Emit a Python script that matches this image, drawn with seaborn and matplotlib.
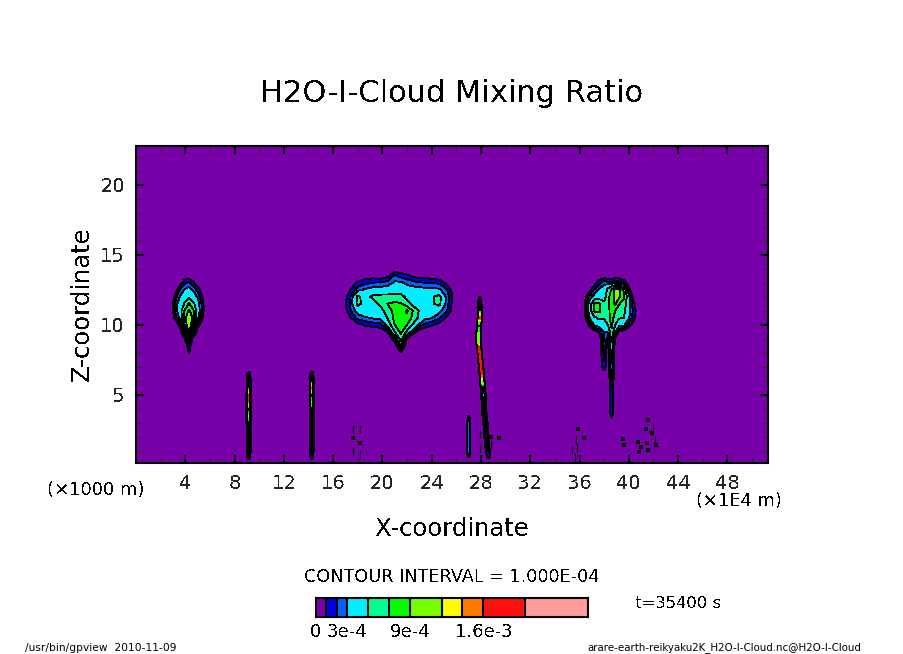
import numpy as np
import matplotlib
matplotlib.use('Agg')
import matplotlib.pyplot as plt
from matplotlib.colors import ListedColormap, BoundaryNorm
import seaborn as sns

# contour levels and colours, in units of 1e-4
levels = [0, 1, 2, 3, 5, 7, 9, 12, 14, 16, 20, 26]
colors = ['#7800A8', '#0000E0', '#0060FF', '#00EEFF', '#00FF90', '#00FF00',
          '#78FF00', '#FFFF00', '#FF7800', '#FF1010', '#FF9C9C']
bar_cells = [0.5, 1.5, 2.5, 3.5, 4.5, 5.5, 6.5, 7.5, 8.5, 9.5, 10.5, 11.5, 12.5,
             13.5, 14.5, 15.5, 16.5, 17.5, 18.5, 19.5, 20.5, 21.5, 22.5, 23.5, 24.5, 25.5]
bar_labels = ['0', '3e-4', '9e-4', '1.6e-3']
bar_label_levels = [0, 3, 9, 16]

x_major = [4, 8, 12, 16, 20, 24, 28, 32, 36, 40, 44, 48]
z_major = [5, 10, 15, 20]

# cloud near x=4
c1_x = [2.6, 3.0, 3.3, 3.6, 3.95, 4.3, 4.65, 5.0, 5.5, 5.9]
c1_z = [7.5, 8, 8.5, 9, 9.5, 10, 10.5, 11, 11.5, 12, 12.5, 13, 13.5]
c1_q = [[0, 0, 0, 0, 0, .2, 0, 0, 0, 0],
        [0, 0, 0, 0, 0, 1.1, 0, 0, 0, 0],
        [0, 0, 0, 0, 0, 1.6, 0, 0, 0, 0],
        [0, 0, 0, 0, .8, 3.6, .4, 0, 0, 0],
        [0, 0, 0, .3, 4, 10, 3.2, .2, 0, 0],
        [0, 0, .4, 1.6, 7, 11.4, 6.5, 1.5, 0, 0],
        [0, .5, 2, 3.6, 8, 11.6, 8.2, 3.4, .4, 0],
        [0, 1, 2.8, 4.2, 7.2, 9.4, 7.4, 4, 1, 0],
        [0, 1, 2.8, 3.8, 5.2, 7.2, 5.4, 3.8, .9, 0],
        [0, .4, 2, 3.2, 4, 4.6, 3.9, 2.8, .4, 0],
        [0, 0, .7, 2.2, 3.1, 3.5, 2.8, 1.6, 0, 0],
        [0, 0, 0, .4, 1.8, 2.2, 1.2, .2, 0, 0],
        [0, 0, 0, 0, 0, 0, 0, 0, 0, 0]]

# big cloud near x=21
c2_x = [16.8, 17.4, 18, 18.6, 19.2, 19.8, 20.4, 21, 21.5, 22, 22.8, 23.4, 24, 24.6, 25.2, 25.8]
c2_z = [8, 8.5, 9, 9.5, 10, 10.5, 11, 11.5, 12, 12.5, 13, 13.5, 14]
c2_q = [[0, 0, 0, 0, 0, 0, 0, 0, .9, 0, 0, 0, 0, 0, 0, 0],
        [0, 0, 0, 0, 0, 0, 0, .2, 3, 0, 0, 0, 0, 0, 0, 0],
        [0, 0, 0, 0, 0, 0, 0, 1.5, 6, .8, 0, 0, 0, 0, 0, 0],
        [0, 0, 0, 0, 0, .2, .8, 5, 7.6, 4.5, .6, 0, 0, 0, 0, 0],
        [0, 0, .6, 1.2, 1.4, 1.6, 3.4, 7, 8, 7, 3.4, 1.8, 1.2, .6, 0, 0],
        [0, .9, 2.4, 2.8, 3.2, 3.4, 5, 7.6, 8.2, 8.4, 5.2, 3.4, 3.1, 2.2, .8, 0],
        [.1, 1.9, 3.6, 4.6, 3.8, 4, 6, 7.6, 8, 9.3, 5.4, 3.8, 3.7, 3.4, 2.2, .1],
        [.2, 2.2, 5.6, 4.2, 3.8, 5.4, 7, 7.4, 7.2, 5.6, 3.8, 3.7, 4.7, 5.6, 2.6, .3],
        [.1, 1.9, 5.4, 4.2, 5.4, 5.6, 5.6, 5.8, 5.6, 4.5, 3.8, 3.7, 4.7, 5.6, 2.8, .6],
        [0, 1, 2.6, 3.2, 3.5, 3.6, 3.7, 4, 4.2, 3.6, 3.5, 3.4, 3.4, 3.2, 2.2, .2],
        [0, .2, 1.2, 1.6, 2, 2.1, 2.4, 3.2, 3.2, 2.7, 2.2, 2, 1.9, 1.8, .6, 0],
        [0, 0, 0, .4, .4, .2, .6, 2.2, 1.6, 1.2, .5, .5, .3, 0, 0, 0],
        [0, 0, 0, 0, 0, 0, 0, 0, 0, 0, 0, 0, 0, 0, 0, 0]]

# cloud near x=38 with its two stalks
c3_x = [36, 36.4, 36.8, 37.2, 37.6, 38, 38.3, 38.6, 38.9, 39.2, 39.6, 40, 40.4, 40.8]
c3_z = [3, 3.5, 4, 4.5, 5, 5.5, 6, 6.5, 7, 7.5, 8, 8.5, 9, 9.5, 10, 10.5, 11, 11.5, 12, 12.5, 13, 13.5]
c3_q = [[0, 0, 0, 0, 0, 0, 0, 0, 0, 0, 0, 0, 0, 0],
        [0, 0, 0, 0, 0, 0, 0, 1.4, 0, 0, 0, 0, 0, 0],
        [0, 0, 0, 0, 0, 0, 0, 1.5, 0, 0, 0, 0, 0, 0],
        [0, 0, 0, 0, 0, 0, 0, 1.6, 0, 0, 0, 0, 0, 0],
        [0, 0, 0, 0, 0, 0, 0, 1.8, 0, 0, 0, 0, 0, 0],
        [0, 0, 0, 0, 0, 0, 0, 2, 0, 0, 0, 0, 0, 0],
        [0, 0, 0, 0, 0, 0, 0, 2.2, 0, 0, 0, 0, 0, 0],
        [0, 0, 0, 0, 0, .4, 0, 2.5, 0, 0, 0, 0, 0, 0],
        [0, 0, 0, 0, 0, 1.6, 0, 2.8, 0, 0, 0, 0, 0, 0],
        [0, 0, 0, 0, 0, 2, 0, 3.2, 0, 0, 0, 0, 0, 0],
        [0, 0, 0, 0, 0, 2.4, 0, 3.6, 0, 0, 0, 0, 0, 0],
        [0, 0, 0, 0, 0, 2.8, .3, 4.5, 0, 0, 0, 0, 0, 0],
        [0, 0, 0, 0, 0, 3.2, 1.4, 5.6, .8, 0, 0, 0, 0, 0],
        [0, 0, 0, .3, 1.2, 3, 3.2, 6.6, 3.4, .8, .3, 0, 0, 0],
        [0, 0, 1.2, 3.2, 3.8, 4, 5, 7.4, 5, 3.6, 3.4, 1.6, .4, 0],
        [0, .5, 3, 4.6, 5.4, 5.2, 6, 8, 6, 5.2, 5, 3.2, 1.4, 0],
        [0, 1, 3.6, 7.4, 7.5, 5.6, 6, 8.2, 7, 6, 5.5, 3.5, 1.6, .1],
        [0, 1, 3.5, 7.2, 7.2, 5.4, 6.5, 8, 9.4, 7.2, 6, 3.6, 1.2, 0],
        [0, .3, 2.4, 3.6, 3.8, 4.2, 6, 8.4, 9.5, 9.5, 7.4, 3.4, .2, 0],
        [0, 0, .5, 2, 3.2, 3.5, 5.6, 7.2, 9.5, 9.5, 6.6, 1.4, 0, 0],
        [0, 0, 0, .4, 1.6, 2.8, 2.2, 2.2, 2.6, 2.6, 1.5, .4, 0, 0],
        [0, 0, 0, 0, 0, 0, 0, 0, 0, 0, 0, 0, 0, 0]]

# thin towers: centre x, core and edge values per height
tower_a_z = [.3, .5, 1, 1.5, 2, 2.5, 3, 3.5, 4, 4.5, 5, 5.5, 6, 6.5, 6.8]
tower_a_x = [9.15, 9.15, 9.15, 9.15, 9.15, 9.15, 9.15, 9.15, 9.15, 9.15, 9.15, 9.15, 9.15, 9.15, 9.15]
tower_a_core = [0, 1.5, 3, 4, 5, 5.5, 6, 9.5, 6, 16.5, 17, 6, 5, 1.5, 0]
tower_a_edge = [0, .8, 1.4, 1.6, 1.6, 1.7, 1.8, 1.8, 1.8, 1.8, 1.8, 1.7, 1.5, .8, 0]

tower_b_z = [.3, .5, 1, 1.5, 2, 2.5, 3, 3.5, 4, 4.5, 5, 5.5, 6, 6.5, 7]
tower_b_x = [14.27, 14.27, 14.27, 14.27, 14.27, 14.27, 14.27, 14.27, 14.27, 14.27, 14.27, 14.27, 14.27, 14.27, 14.27]
tower_b_core = [0, 1.5, 2.5, 3, 3, 3, 3.5, 4, 6, 9.5, 6, 17, 5.5, 1.5, 0]
tower_b_edge = [0, .8, 1.2, 1.3, 1.3, 1.3, 1.4, 1.5, 1.5, 1.7, 1.8, 1.8, 1.5, .9, 0]

tower_c_z = [.3, .6, 1, 2, 2.7, 3.5, 4, 5.1, 5.5, 6.5, 7.5, 8.4, 8.7, 9.3, 10, 10.5, 11, 11.5, 12.2]
tower_c_x = [28.65, 28.6, 28.55, 28.45, 28.4, 28.3, 28.25, 28.2, 28.15, 28.07, 27.95, 27.85, 27.8, 27.8, 27.85, 27.9, 27.9, 27.9, 27.9]
tower_c_core = [0, 1.5, 2, 2.5, 3, 3.2, 3.5, 4.5, 5, 17, 17, 17, 10, 10, 6, 17, 6, 3, 0]
tower_c_edge = [0, .9, 1.3, 1.5, 1.6, 1.6, 1.7, 1.7, 1.7, 1.8, 1.8, 1.8, 1.8, 1.8, 1.8, 1.6, 1.5, 1.2, 0]

tower_d_z = [.4, .6, 1, 1.5, 2, 2.5, 3, 3.5, 3.8]
tower_d_x = [27, 27, 27, 27, 27, 27, 27, 27, 27]
tower_d_core = [0, 1.2, 2.5, 2.8, 2.6, 2.8, 2.2, 1.1, 0]
tower_d_edge = [0, .4, 1.1, 1.3, 1.3, 1.2, .8, .2, 0]

# tiny closed contours
speck_x = [17.65, 18.2, 29.45, 35.9, 36.4, 39.5, 39.6, 41.55, 41.85, 41.4, 41.5, 40.75, 41, 42.2, 40.8, 41.6, 28.8]
speck_z = [1.9, 1.6, 1.9, 2.6, 1.9, 1.85, 1.4, 3.2, 2.3, 2.6, 1.55, 1.65, 1.3, 1.4, .9, 1.1, 2]
dash_x = [17.65, 18.2, 17.65, 18.2, 27.9, 27.9, 35.7, 35.8, 35.4, 35.6, 42, 42.1, 28.85]
dash_z = [2.6, 2.6, 1, .8, 2.2, 1.2, 1.8, 1.2, 1.1, .6, 2.7, 1.8, 1.4]

sns.set_style('ticks')
plt.rcParams['font.family'] = ['DejaVu Sans']
plt.rcParams['text.antialiased'] = False

W, H = 904, 654
cmap = ListedColormap(colors)
norm = BoundaryNorm(levels, cmap.N)

fig = plt.figure(figsize=(W / 100, H / 100), dpi=100, facecolor='white')


def box(left, top, right, bottom):
    return [left / W, 1 - bottom / H, (right - left) / W, (bottom - top) / H]


def put(px, py, s, size, **kw):
    kw.setdefault('ha', 'center')
    fig.text(px / W, 1 - py / H, s, fontsize=size, va='center', color='black', **kw)


ax = fig.add_axes(box(136, 146, 768, 463))
ax.set_facecolor(colors[0])


def draw_field(x, z, q, lw=.6):
    q = np.array(q, dtype=float)
    ax.contourf(x, z, q, levels=levels, cmap=cmap, norm=norm, antialiased=False)
    ax.contour(x, z, q, levels=levels[1:], colors='black', linewidths=lw, antialiased=False)


def draw_tower(x, z, core, edge, first_level=5):
    offsets = np.array([-.26, -.12, -.05, 0, .05, .12, .26])
    xx = np.array(x)[:, None] + offsets
    zz = np.repeat(np.array(z, dtype=float)[:, None], 7, axis=1)
    e = np.array(edge, dtype=float)
    c = np.array(core, dtype=float)
    q = np.column_stack([0 * e, e, c, c, c, e, 0 * e])
    draw_field(xx, zz, q, lw=.7)
    # the thin bright core stays visible over the packed lines
    ax.contourf(xx[:, 2:5], zz[:, 2:5], q[:, 2:5], levels=levels[first_level:], cmap=cmap, norm=norm,
                antialiased=False, zorder=3)


draw_field(c1_x, c1_z, c1_q)
draw_field(c2_x, c2_z, c2_q)
draw_field(c3_x, c3_z, c3_q)
draw_tower(tower_a_x, tower_a_z, tower_a_core, tower_a_edge)
draw_tower(tower_b_x, tower_b_z, tower_b_core, tower_b_edge)
draw_tower(tower_c_x, tower_c_z, tower_c_core, tower_c_edge)
draw_tower(tower_d_x, tower_d_z, tower_d_core, tower_d_edge, first_level=2)

sns.scatterplot(x=speck_x, y=speck_z, marker='s', s=6, color='black', linewidth=0, antialiased=False, ax=ax)
sns.scatterplot(x=dash_x, y=dash_z, marker='|', s=30, color='black', linewidth=.9, antialiased=False, ax=ax)

ax.set_xlim(0, 51.3)
ax.set_ylim(.14, 22.75)
ax.set_xticks(x_major)
ax.set_xticks(np.arange(2, 51, 4), minor=True)
ax.set_yticks(z_major)
ax.set_yticks(np.arange(1, 23), minor=True)
ax.tick_params(which='major', direction='in', length=6, width=1.5, top=True, right=True,
               labelsize=14, pad=8, color='black')
ax.tick_params(which='minor', direction='in', length=3.5, width=.8, top=True, right=True)
for s in ax.spines.values():
    s.set_linewidth(1.5)
    s.set_color('black')

# colour bar
cax = fig.add_axes(box(316, 598, 588, 617))
sns.heatmap(np.array(bar_cells).reshape(1, -1), cmap=cmap, norm=norm, cbar=False,
            xticklabels=False, yticklabels=False, ax=cax)
cax.vlines(levels[1:-1], 0, 1, colors='black', linewidth=1.5)
for s in cax.spines.values():
    s.set_visible(True)
    s.set_linewidth(1.5)
    s.set_color('black')
for lab, lev in zip(bar_labels, bar_label_levels):
    put(316 + lev * 272 / 26, 632, lab, 13)

put(452, 93, 'H2O-I-Cloud Mixing Ratio', 22)
put(452, 529, 'X-coordinate', 17.5)
put(82, 304, 'Z-coordinate', 17.5, rotation=90)
put(96, 490, '(×1000 m)', 13)
put(739, 501, '(×1E4 m)', 12.9)
put(452, 577, 'CONTOUR INTERVAL = 1.000E-04', 12.7)
put(678, 603, 't=35400 s', 11.8)
put(101, 648, '/usr/bin/gpview  2010-11-09', 7.7, antialiased=True)
put(724, 648, 'arare-earth-reikyaku2K_H2O-I-Cloud.nc@H2O-I-Cloud', 7.4, antialiased=True)

fig.savefig('out.png', dpi=100)
